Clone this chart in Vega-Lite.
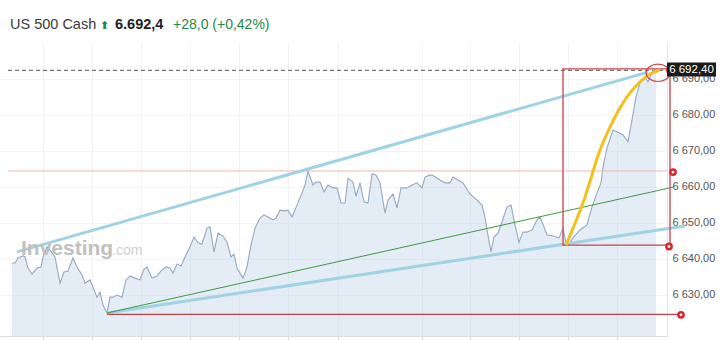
{
  "$schema": "https://vega.github.io/schema/vega-lite/v6.json",
  "autosize": {"type": "none"},
  "padding": {"left": 0, "top": 43, "right": 53, "bottom": 4},
  "width": 667,
  "height": 293,
  "background": "white",
  "config": {"view": {"stroke": null}, "font": "Liberation Sans"},
  "datasets": {
    "price": [
      {"t":12,"price":6638.8},{"t":15,"price":6638.8},{"t":18,"price":6640.2},{"t":23,"price":6640.8},{"t":25,"price":6640.5},
      {"t":28,"price":6637.4},{"t":32,"price":6635.7},{"t":37,"price":6637.4},{"t":41,"price":6637.7},{"t":43,"price":6640.5},
      {"t":47,"price":6643.3},{"t":50,"price":6642.4},{"t":55,"price":6640.5},{"t":60,"price":6633.2},{"t":64,"price":6636.3},
      {"t":68,"price":6636.6},{"t":73,"price":6640.2},{"t":77,"price":6637.7},{"t":82,"price":6635.5},{"t":85,"price":6633.2},
      {"t":90,"price":6634.1},{"t":93,"price":6632.1},{"t":97,"price":6629.3},{"t":100,"price":6630.7},{"t":103,"price":6627.1},
      {"t":107,"price":6624.9},{"t":110,"price":6629.3},{"t":113,"price":6629.3},{"t":117,"price":6629.9},{"t":122,"price":6629.3},
      {"t":126,"price":6634.1},{"t":130,"price":6635.2},{"t":135,"price":6634.6},{"t":140,"price":6634.1},{"t":144,"price":6637.1},
      {"t":147,"price":6637.7},{"t":152,"price":6634.6},{"t":157,"price":6635.2},{"t":161,"price":6636.6},{"t":166,"price":6637.7},
      {"t":170,"price":6637.4},{"t":173,"price":6636.0},{"t":177,"price":6638.5},{"t":181,"price":6638.0},{"t":185,"price":6640.5},
      {"t":190,"price":6643.3},{"t":194,"price":6646.0},{"t":198,"price":6644.4},{"t":202,"price":6644.1},{"t":207,"price":6648.5},
      {"t":210,"price":6648.8},{"t":214,"price":6641.9},{"t":218,"price":6647.1},{"t":223,"price":6646.3},{"t":227,"price":6644.6},
      {"t":231,"price":6640.5},{"t":234,"price":6641.3},{"t":237,"price":6637.4},{"t":243,"price":6634.6},{"t":247,"price":6637.7},
      {"t":251,"price":6643.8},{"t":255,"price":6648.5},{"t":260,"price":6651.3},{"t":264,"price":6652.2},{"t":268,"price":6651.6},
      {"t":273,"price":6650.8},{"t":276,"price":6651.3},{"t":280,"price":6653.5},{"t":285,"price":6653.3},{"t":288,"price":6653.5},
      {"t":292,"price":6651.6},{"t":297,"price":6654.9},{"t":302,"price":6658.3},{"t":305,"price":6660.5},{"t":308,"price":6664.4},
      {"t":313,"price":6660.5},{"t":316,"price":6661.3},{"t":320,"price":6661.3},{"t":324,"price":6658.6},{"t":328,"price":6660.5},
      {"t":333,"price":6659.7},{"t":337,"price":6659.7},{"t":341,"price":6655.5},{"t":345,"price":6655.5},{"t":348,"price":6662.4},
      {"t":353,"price":6661.3},{"t":356,"price":6657.4},{"t":360,"price":6661.1},{"t":364,"price":6655.8},{"t":368,"price":6655.5},
      {"t":372,"price":6663.6},{"t":376,"price":6663.3},{"t":380,"price":6661.1},{"t":385,"price":6652.7},{"t":388,"price":6656.3},
      {"t":393,"price":6658.0},{"t":397,"price":6654.1},{"t":401,"price":6659.7},{"t":407,"price":6659.7},{"t":412,"price":6660.5},
      {"t":417,"price":6661.1},{"t":422,"price":6659.7},{"t":425,"price":6662.7},{"t":430,"price":6663.3},{"t":434,"price":6663.0},
      {"t":440,"price":6661.9},{"t":445,"price":6661.1},{"t":450,"price":6661.1},{"t":453,"price":6662.7},{"t":458,"price":6661.9},
      {"t":463,"price":6661.1},{"t":470,"price":6658.0},{"t":477,"price":6656.3},{"t":482,"price":6654.9},{"t":485,"price":6651.6},
      {"t":487,"price":6648.0},{"t":491,"price":6641.9},{"t":494,"price":6646.0},{"t":498,"price":6647.1},{"t":502,"price":6650.2},
      {"t":507,"price":6654.4},{"t":511,"price":6654.9},{"t":515,"price":6649.4},{"t":519,"price":6644.6},{"t":523,"price":6647.4},
      {"t":527,"price":6647.4},{"t":532,"price":6648.0},{"t":537,"price":6650.8},{"t":540,"price":6651.6},{"t":544,"price":6648.8},
      {"t":547,"price":6646.6},{"t":553,"price":6646.3},{"t":559,"price":6645.8},{"t":563,"price":6648.5},{"t":566,"price":6644.4},
      {"t":568,"price":6643.8},{"t":573,"price":6645.8},{"t":580,"price":6648.0},{"t":587,"price":6649.4},{"t":592,"price":6654.4},
      {"t":597,"price":6658.3},{"t":601,"price":6661.1},{"t":603,"price":6665.5},{"t":607,"price":6670.8},{"t":613,"price":6675.8},
      {"t":618,"price":6675.2},{"t":623,"price":6674.4},{"t":628,"price":6672.5},{"t":632,"price":6678.6},{"t":636,"price":6685.0},
      {"t":640,"price":6688.9},{"t":645,"price":6690.5},{"t":648,"price":6689.2},{"t":651,"price":6691.1},{"t":656,"price":6692.4}
    ],
    "prevClose": [{"t1": 8, "t2": 667, "price": 6664.4}],
    "lastPrice": [{"t1": 8, "t2": 667, "price": 6692.4}],
    "channel": [
      {"t1": 17, "p1": 6641.9, "t2": 648, "p2": 6691.9},
      {"t1": 107, "p1": 6624.9, "t2": 685, "p2": 6649.1}
    ],
    "trend": [{"t1": 107, "p1": 6624.9, "t2": 673, "p2": 6659.9}],
    "floor": [{"t1": 107, "t2": 681, "price": 6624.5}],
    "box": [{"t1": 563, "t2": 670, "p1": 6643.8, "p2": 6692.8}],
    "arc": [
      {"t": 566, "price": 6643.8}, {"t": 584, "price": 6656.3}, {"t": 600, "price": 6670.2},
      {"t": 610, "price": 6676.6}, {"t": 627, "price": 6685.0}, {"t": 640, "price": 6689.2},
      {"t": 650, "price": 6691.4}, {"t": 660, "price": 6692.5}
    ],
    "markers": [
      {"t": 681, "price": 6624.4}, {"t": 669, "price": 6643.4},
      {"t": 673, "price": 6664.1}, {"t": 670, "price": 6692.4}
    ],
    "ellipse": [{"t": 658, "price": 6691.7}],
    "tag": [{"t1": 667, "t2": 716, "p1": 6690.7, "p2": 6694.6, "tc": 691.5, "pc": 6692.6, "label": "6 692,40"}]
  },
  "layer": [
    {
      "data": {"name": "price"},
      "mark": {"type": "area", "color": "#c4d6ea", "fillOpacity": 0.45},
      "encoding": {
        "x": {
          "field": "t", "type": "quantitative",
          "scale": {"domain": [0, 667], "nice": false, "zero": false},
          "axis": {
            "values": [43, 92, 141, 190, 239, 288, 338, 422, 470, 519, 568, 617],
            "labels": false, "title": null, "grid": true, "gridColor": "#f3f3f3",
            "domainColor": "#dddddd", "tickColor": "#dddddd", "tickSize": 5
          }
        },
        "y": {
          "field": "price", "type": "quantitative",
          "scale": {"domain": [6618.5, 6700], "nice": false, "zero": false},
          "axis": {
            "orient": "right", "values": [6630, 6640, 6650, 6660, 6670, 6680, 6690],
            "labelExpr": "replace(replace(format(datum.value, ',.2f'), ',', ' '), '.', ',')",
            "title": null, "ticks": false, "labelPadding": 5, "labelFontSize": 11,
            "labelColor": "#555555", "labelFont": "Liberation Sans",
            "domainColor": "#e4e4e4", "gridColor": "#f3f3f3"
          }
        },
        "y2": {"datum": 6618.5}
      }
    },
    {
      "data": {"name": "price"},
      "mark": {"type": "line", "color": "#94a9be", "strokeWidth": 1.1},
      "encoding": {
        "x": {"field": "t", "type": "quantitative"},
        "y": {"field": "price", "type": "quantitative"}
      }
    },
    {
      "data": {"name": "prevClose"},
      "mark": {"type": "rule", "color": "#f2b6ae", "strokeWidth": 1},
      "encoding": {
        "x": {"field": "t1", "type": "quantitative"},
        "x2": {"field": "t2"},
        "y": {"field": "price", "type": "quantitative"}
      }
    },
    {
      "data": {"name": "lastPrice"},
      "mark": {"type": "rule", "color": "#555555", "strokeWidth": 1, "strokeDash": [4, 3]},
      "encoding": {
        "x": {"field": "t1", "type": "quantitative"},
        "x2": {"field": "t2"},
        "y": {"field": "price", "type": "quantitative"}
      }
    },
    {
      "data": {"name": "channel"},
      "mark": {"type": "rule", "color": "#9fd3e3", "strokeWidth": 3},
      "encoding": {
        "x": {"field": "t1", "type": "quantitative"},
        "x2": {"field": "t2"},
        "y": {"field": "p1", "type": "quantitative"},
        "y2": {"field": "p2"}
      }
    },
    {
      "data": {"name": "trend"},
      "mark": {"type": "rule", "color": "#3f9a3f", "strokeWidth": 1},
      "encoding": {
        "x": {"field": "t1", "type": "quantitative"},
        "x2": {"field": "t2"},
        "y": {"field": "p1", "type": "quantitative"},
        "y2": {"field": "p2"}
      }
    },
    {
      "data": {"name": "floor"},
      "mark": {"type": "rule", "color": "#c8414a", "strokeWidth": 1.3},
      "encoding": {
        "x": {"field": "t1", "type": "quantitative"},
        "x2": {"field": "t2"},
        "y": {"field": "price", "type": "quantitative"}
      }
    },
    {
      "data": {"name": "box"},
      "mark": {"type": "rect", "fillOpacity": 0, "stroke": "#c8414a", "strokeWidth": 1.3},
      "encoding": {
        "x": {"field": "t1", "type": "quantitative"},
        "x2": {"field": "t2"},
        "y": {"field": "p1", "type": "quantitative"},
        "y2": {"field": "p2"}
      }
    },
    {
      "data": {"name": "arc"},
      "mark": {"type": "line", "color": "#f3c11f", "strokeWidth": 3, "interpolate": "monotone"},
      "encoding": {
        "x": {"field": "t", "type": "quantitative"},
        "y": {"field": "price", "type": "quantitative"}
      }
    },
    {
      "data": {"name": "ellipse"},
      "mark": {
        "type": "point", "filled": false, "stroke": "#d0404a", "strokeWidth": 1.2,
        "shape": "M -1 0 A 1 0.72 0 1 1 1 0 A 1 0.72 0 1 1 -1 0 Z", "size": 576, "opacity": 1
      },
      "encoding": {
        "x": {"field": "t", "type": "quantitative"},
        "y": {"field": "price", "type": "quantitative"}
      }
    },
    {
      "data": {"name": "markers"},
      "mark": {
        "type": "point", "shape": "circle", "filled": true, "fill": "white",
        "stroke": "#dc2530", "strokeWidth": 2.5, "size": 28, "opacity": 1
      },
      "encoding": {
        "x": {"field": "t", "type": "quantitative"},
        "y": {"field": "price", "type": "quantitative"}
      }
    },
    {
      "data": {"name": "tag"},
      "mark": {"type": "rect", "color": "#1b1b1b"},
      "encoding": {
        "x": {"field": "t1", "type": "quantitative"},
        "x2": {"field": "t2"},
        "y": {"field": "p1", "type": "quantitative"},
        "y2": {"field": "p2"}
      }
    },
    {
      "data": {"name": "tag"},
      "mark": {"type": "text", "color": "white", "fontSize": 11.5, "align": "center", "baseline": "middle", "font": "Liberation Sans"},
      "encoding": {
        "x": {"field": "tc", "type": "quantitative"},
        "y": {"field": "pc", "type": "quantitative"},
        "text": {"field": "label"}
      }
    },
    {
      "data": {"values": [{}]},
      "mark": {"type": "text", "text": "Investing", "fontSize": 21, "fontWeight": "bold", "color": "#c0c0c0", "align": "left", "baseline": "alphabetic", "font": "Liberation Sans", "letterSpacing": 0.3},
      "encoding": {"x": {"datum": 21}, "y": {"datum": 6641.0}}
    },
    {
      "data": {"values": [{}]},
      "mark": {"type": "text", "text": ".com", "fontSize": 14, "color": "#cfcfcf", "align": "left", "baseline": "alphabetic", "font": "Liberation Sans"},
      "encoding": {"x": {"datum": 112}, "y": {"datum": 6641.0}}
    },
    {
      "data": {"values": [{}]},
      "mark": {"type": "text", "text": "US 500 Cash", "fontSize": 14.5, "color": "#3a3a3a", "align": "left", "baseline": "middle", "font": "Liberation Sans"},
      "encoding": {"x": {"datum": 10}, "y": {"datum": 6705}}
    },
    {
      "data": {"values": [{}]},
      "mark": {"type": "text", "text": "⬆", "fontSize": 11, "fontWeight": "bold", "color": "#1f8a48", "align": "center", "baseline": "middle", "font": "DejaVu Sans"},
      "encoding": {"x": {"datum": 104.5}, "y": {"datum": 6704.8}}
    },
    {
      "data": {"values": [{}]},
      "mark": {"type": "text", "text": "6.692,4", "fontSize": 14.5, "fontWeight": "bold", "color": "#222222", "align": "left", "baseline": "middle", "font": "Liberation Sans"},
      "encoding": {"x": {"datum": 115}, "y": {"datum": 6705}}
    },
    {
      "data": {"values": [{}]},
      "mark": {"type": "text", "text": "+28,0 (+0,42%)", "fontSize": 14, "color": "#1f8a48", "align": "left", "baseline": "middle", "font": "Liberation Sans"},
      "encoding": {"x": {"datum": 173}, "y": {"datum": 6705}}
    }
  ]
}
